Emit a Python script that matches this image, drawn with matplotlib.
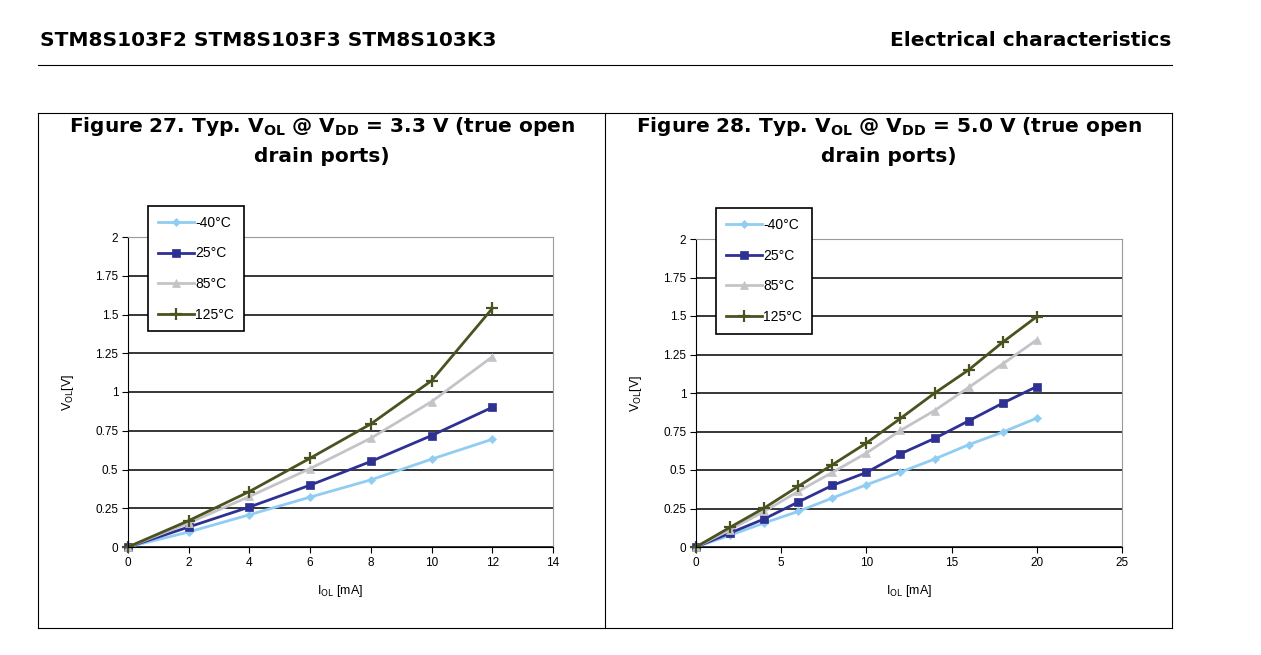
import matplotlib.pyplot as plt
from matplotlib.lines import Line2D

plt.rcParams['font.family'] = ['Liberation Sans', 'DejaVu Sans']

# Figure 27: VDD = 3.3 V
i_ol_33 = [0, 2, 4, 6, 8, 10, 12]
v_m40_33 = [0, 0.097, 0.208, 0.322, 0.433, 0.567, 0.695]
v_25_33 = [0, 0.129, 0.258, 0.399, 0.552, 0.719, 0.901]
v_85_33 = [0, 0.155, 0.326, 0.506, 0.702, 0.938, 1.227]
v_125_33 = [0, 0.170, 0.358, 0.573, 0.794, 1.073, 1.539]

# Figure 28: VDD = 5.0 V
i_ol_50 = [0, 2, 4, 6, 8, 10, 12, 14, 16, 18, 20]
v_m40_50 = [0, 0.076, 0.156, 0.231, 0.318, 0.404, 0.486, 0.571, 0.664, 0.746, 0.837]
v_25_50 = [0, 0.091, 0.182, 0.292, 0.400, 0.484, 0.605, 0.705, 0.819, 0.934, 1.042]
v_85_50 = [0, 0.112, 0.231, 0.361, 0.484, 0.610, 0.757, 0.886, 1.036, 1.189, 1.345]
v_125_50 = [0, 0.128, 0.253, 0.394, 0.534, 0.675, 0.835, 0.999, 1.150, 1.330, 1.496]

labels = ['-40°C', '25°C', '85°C', '125°C']
colors = ['#8fcdf2', '#2e3192', '#c4c4c8', '#4a5320']
markers = ['D', 's', '^', '+']
msizes = [4.5, 5.5, 6, 8.5]

y_ticks = [0, 0.25, 0.5, 0.75, 1, 1.25, 1.5, 1.75, 2]
y_tick_labels = ['0', '0.25', '0.5', '0.75', '1', '1.25', '1.5', '1.75', '2']

fig = plt.figure(figsize=(12.61, 6.55), dpi=100)

head_font = dict(family='DejaVu Sans', fontsize=14.5, fontweight='bold')

# page header
fig.text(40 / 1261, 1 - 40 / 655, 'STM8S103F2 STM8S103F3 STM8S103K3',
         va='center', ha='left', **head_font)
fig.text(1171 / 1261, 1 - 40 / 655, 'Electrical characteristics',
         va='center', ha='right', **head_font)
fig.add_artist(Line2D([38 / 1261, 1172 / 1261], [1 - 65 / 655] * 2, color='black', lw=0.8))

# table frame
top = 1 - 113 / 655
bot = 1 - 628 / 655
xl, xm, xr = 38 / 1261, 605 / 1261, 1172 / 1261
for xs, ys in [([xl, xr], [top, top]), ([xl, xr], [bot, bot]),
               ([xl, xl], [bot, top]), ([xm, xm], [bot, top]), ([xr, xr], [bot, top])]:
    fig.add_artist(Line2D(xs, ys, color='black', lw=0.8))

plt.rcParams['mathtext.fontset'] = 'dejavusans'
title_27 = r'Figure 27. Typ. V$_{\mathbf{OL}}$ @ V$_{\mathbf{DD}}$ = 3.3 V (true open'
title_28 = r'Figure 28. Typ. V$_{\mathbf{OL}}$ @ V$_{\mathbf{DD}}$ = 5.0 V (true open'
fig.text(322 / 1261, 1 - 126 / 655, title_27, ha='center', va='center', **head_font)
fig.text(322 / 1261, 1 - 156 / 655, 'drain ports)', ha='center', va='center', **head_font)
fig.text(889 / 1261, 1 - 126 / 655, title_28, ha='center', va='center', **head_font)
fig.text(889 / 1261, 1 - 156 / 655, 'drain ports)', ha='center', va='center', **head_font)


def draw(ax, x, series, xmax, xstep):
    for y, lab, c, m, ms in zip(series, labels, colors, markers, msizes):
        ax.plot(x, y, color=c, marker=m, markersize=ms, lw=2, label=lab,
                markeredgewidth=1.6 if m == '+' else 0.5, clip_on=False)
    ax.set_xlim(0, xmax)
    ax.set_ylim(0, 2)
    ax.set_xticks(range(0, xmax + 1, xstep))
    ax.set_yticks(y_ticks)
    ax.set_yticklabels(y_tick_labels)
    ax.grid(axis='y', color='black', lw=1.1)
    ax.set_axisbelow(True)
    for s in ['top', 'right']:
        ax.spines[s].set_color('#9a9a9a')
    for s in ['left', 'bottom']:
        ax.spines[s].set_color('black')
    ax.tick_params(labelsize=8.5, length=4, width=0.8, direction='out', pad=3)
    ax.set_ylabel(r'V$_{\mathrm{OL}}$[V]', fontsize=9, labelpad=14)
    ax.set_xlabel(r'I$_{\mathrm{OL}}$ [mA]', fontsize=9, labelpad=10)
    leg = ax.legend(loc='upper left', bbox_to_anchor=(0.047, 1.10), fontsize=10,
                    frameon=True, fancybox=False, edgecolor='black', framealpha=1,
                    handlelength=2.6, handletextpad=0.1, borderpad=0.7, labelspacing=1.2,
                    borderaxespad=0)
    leg.get_frame().set_linewidth(1.2)


ax1 = fig.add_axes([128 / 1261, 1 - 547 / 655, 425 / 1261, 310 / 655])
draw(ax1, i_ol_33, [v_m40_33, v_25_33, v_85_33, v_125_33], 14, 2)
ax2 = fig.add_axes([696 / 1261, 1 - 547 / 655, 426 / 1261, 308 / 655])
draw(ax2, i_ol_50, [v_m40_50, v_25_50, v_85_50, v_125_50], 25, 5)

fig.savefig('out.png', dpi=100)
